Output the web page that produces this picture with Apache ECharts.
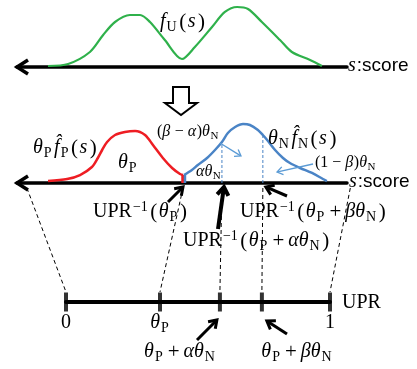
<!DOCTYPE html>
<html><head><meta charset="utf-8">
<script src="https://cdn.jsdelivr.net/npm/echarts@6/dist/echarts.min.js"></script>
<style>html,body{margin:0;padding:0;background:#fff}#c{width:417px;height:369px}</style>
</head><body><div id="c"></div>
<script>
// ---- data (s: score, normalised 0..1, increasing to the left) ----
const sU = [0.906,0.845,0.779,0.739,0.703,0.658,0.627,0.597,0.552,0.500,0.461,0.409,0.370,0.333,0.300,0.258,0.203,0.167,0.112,0.076];
const fU = [0.017,0.050,0.250,0.533,0.750,0.867,0.867,0.750,0.450,0.133,0.333,0.667,0.917,1.000,0.967,0.750,0.450,0.250,0.117,0.017];
const sP = [0.906,0.848,0.809,0.773,0.755,0.742,0.727,0.703,0.673,0.642,0.612,0.588,0.558,0.530,0.506,0.497];
const fP = [0.033,0.067,0.133,0.267,0.417,0.550,0.683,0.800,0.850,0.867,0.800,0.633,0.417,0.250,0.150,0.133];
const sN = [0.494,0.470,0.452,0.424,0.400,0.379,0.361,0.339,0.315,0.294,0.270,0.255,0.242,0.218,0.194,0.173,0.142,0.106,0.073,0.061];
const fN = [0.133,0.217,0.300,0.417,0.550,0.683,0.833,0.933,0.983,0.967,0.883,0.800,0.717,0.550,0.417,0.333,0.250,0.167,0.067,0.033];
const cutP = 0.497;          // UPR^-1(theta_P)
const cutNstart = 0.491;
const cutAlpha = 0.379, fAlpha = 0.683;  // UPR^-1(theta_P + alpha theta_N)
const cutBeta = 0.255,  fBeta = 0.800;   // UPR^-1(theta_P + beta theta_N)
const sEnds = [0.97, cutP, cutAlpha, cutBeta, -0.01];   // score points mapped to UPR
const uprTicks = [0, 0.356, 0.583, 0.742, 1];           // UPR positions
const uprTickLabels = ['{r|0}', '{i|θ}{b|P}', '', '', '{r|1}'];

const F = '"Liberation Serif", "DejaVu Serif", serif';
const SANS = '"Liberation Sans", Arial, sans-serif';
const RICH = {
  r: {fontFamily:F, fontSize:20, lineHeight:24, verticalAlign:'middle', color:'#000'},
  g: {fontFamily:F, fontSize:6, lineHeight:6, verticalAlign:'middle', color:'#000'},
  pr:{fontFamily:F, fontSize:21, lineHeight:24, padding:[0,1.5,0,1.5], verticalAlign:'middle', color:'#000'},
  op:{fontFamily:F, fontSize:21, lineHeight:24, padding:[0,4,0,4], verticalAlign:'middle', color:'#000'},
  i: {fontFamily:F, fontSize:20, fontStyle:'italic', lineHeight:24, padding:[0,1,0,0], verticalAlign:'middle', color:'#000'},
  b: {fontFamily:F, fontSize:14, lineHeight:14, padding:[10,1,0,0], verticalAlign:'middle', color:'#000'},
  p: {fontFamily:F, fontSize:14, lineHeight:14, padding:[0,1,10,1], verticalAlign:'middle', color:'#000'},
  sr:{fontFamily:F, fontSize:16, lineHeight:20, verticalAlign:'middle', color:'#000'},
  si:{fontFamily:F, fontSize:16, fontStyle:'italic', lineHeight:20, padding:[0,0.5,0,0], verticalAlign:'middle', color:'#000'},
  ss:{fontFamily:F, fontSize:11, lineHeight:11, padding:[8,0,0,0], verticalAlign:'middle', color:'#000'},
  sans:{fontFamily:SANS, fontSize:19, lineHeight:24, verticalAlign:'middle', color:'#000'}
};
const GREEN = '#2fb14b', RED = '#ee1d23', BLUE = '#4a84c6', LBLUE = '#5b9bd5';

const zip = (a,b) => a.map((v,i)=>[v,b[i]]);
const chart = echarts.init(document.getElementById('c'), null, {renderer:'canvas'});
const sAxis = g => ({gridIndex:g, type:'value', min:0, max:1, inverse:true,
  axisLine:{show:true, onZero:false, lineStyle:{color:'#000', width:3.5}}, axisTick:{show:false}, axisLabel:{show:false}, splitLine:{show:false}});
const hidY = g => ({gridIndex:g, type:'value', min:0, max:1, show:false, splitLine:{show:false}});
const option = {
  animation:false,
  backgroundColor:'#fff',
  grid:[
    {left:17, width:330, top:7, height:60},
    {left:17, width:330, top:123, height:60},
    {left:66, width:264, top:262, height:40}
  ],
  xAxis:[sAxis(0), sAxis(1),
    {gridIndex:2, type:'value', min:0, max:1, axisLine:{show:true, onZero:false, lineStyle:{color:'#000', width:4}}, axisTick:{show:false}, axisLabel:{show:false}, splitLine:{show:false}}],
  yAxis:[hidY(0), hidY(1), hidY(2)],
  series:[
    {type:'line', xAxisIndex:0, yAxisIndex:0, data:zip(sU,fU), smooth:0.3, symbol:'none', clip:false, lineStyle:{color:GREEN, width:2.2}},
    {type:'line', xAxisIndex:1, yAxisIndex:1, data:zip(sP,fP), smooth:0.3, symbol:'none', clip:false, lineStyle:{color:RED, width:2.5}},
    {type:'line', xAxisIndex:1, yAxisIndex:1, data:[[cutP, fP[fP.length-1]],[cutP,0]], symbol:'none', clip:false, lineStyle:{color:RED, width:3.5}},
    {type:'line', xAxisIndex:1, yAxisIndex:1, data:[[cutNstart,0],[cutNstart,fN[0]]], symbol:'none', clip:false, lineStyle:{color:BLUE, width:2.5}},
    {type:'line', xAxisIndex:1, yAxisIndex:1, data:zip(sN,fN), smooth:0.3, symbol:'none', clip:false, lineStyle:{color:BLUE, width:2.5}},
    {type:'line', xAxisIndex:1, yAxisIndex:1, data:[[cutAlpha,0],[cutAlpha,fAlpha]], symbol:'none', clip:false, lineStyle:{color:BLUE, width:1, type:[3,2]}},
    {type:'line', xAxisIndex:1, yAxisIndex:1, data:[[cutBeta,0],[cutBeta,fBeta]], symbol:'none', clip:false, lineStyle:{color:BLUE, width:1, type:[3,2]}},
    {type:'scatter', xAxisIndex:2, yAxisIndex:2, data:uprTicks.map(u=>[u,0]), symbol:'rect', symbolSize:[4,19], clip:false,
      itemStyle:{color:'#000'}, z:5}
  ]
};
chart.setOption(option);

const P = (g,x,y) => chart.convertToPixel({gridIndex:g},[x,y]);
function arrow(x1,y1,x2,y2,color,w,h){
  const a = Math.atan2(y2-y1,x2-x1), d = 0.6;
  const p1=[x2-h*Math.cos(a-d), y2-h*Math.sin(a-d)], p2=[x2-h*Math.cos(a+d), y2-h*Math.sin(a+d)];
  const ex = x2 - Math.cos(a)*w*0.6, ey = y2 - Math.sin(a)*w*0.6;
  return [
    {type:'line', shape:{x1:x1,y1:y1,x2:ex,y2:ey}, style:{stroke:color, lineWidth:w}, z:20},
    {type:'polyline', shape:{points:[p1,[x2,y2],p2]}, style:{stroke:color, lineWidth:w, fill:null}, z:20}
  ];
}
function txt(x,y,text,align){
  return {type:'text', z:15, style:{x:x, y:y, text:text, rich:RICH, fill:'#000', align:align||'left', verticalAlign:'middle', fontFamily:F, fontSize:20}};
}
const g = [];
// open chevrons at the left end of the score axes
[0,1].forEach(gi=>{
  const t = P(gi,1,0);
  g.push({type:'polyline', shape:{points:[[t[0]+11,t[1]-7],[t[0],t[1]],[t[0]+11,t[1]+7]]}, style:{stroke:'#000', lineWidth:3.5, fill:null}, z:10});
});
// dashed connectors score axis -> UPR axis
sEnds.forEach((s,i)=>{
  const a = P(1,s,0), b = P(2,uprTicks[i],0);
  g.push({type:'line', shape:{x1:a[0], y1:a[1]+5, x2:b[0], y2:b[1]-10}, style:{stroke:'#000', lineWidth:1, lineDash:[4,3]}, z:3});
});
// UPR tick labels
uprTicks.forEach((u,i)=>{
  if (!uprTickLabels[i]) return;
  const b = P(2,u,0);
  g.push(txt(b[0], b[1]+21, uprTickLabels[i], 'center'));
});
// hollow arrow
g.push({type:'polygon', shape:{points:[[173,87],[189,87],[189,103],[197,103],[181,115],[165,103],[173,103]]}, style:{stroke:'#000', lineWidth:2, fill:'#fff'}, z:10});
// arrows
const cP = P(1,cutP,0), cA = P(1,cutAlpha,0), cB = P(1,cutBeta,0);
const uA = P(2,uprTicks[2],0), uB = P(2,uprTicks[3],0);
g.push(...arrow(168,202, cP[0], cP[1]+4, '#000', 3, 9));
g.push(...arrow(218,229, cA[0]+2, cA[1]+4, '#000', 4, 10));
g.push(...arrow(287,196, cB[0]+3, cB[1]+4, '#000', 3, 9));
g.push(...arrow(197,340, uA[0]-3, uA[1]+18, '#000', 3, 9));
g.push(...arrow(287,334, uB[0]+5, uB[1]+19, '#000', 3, 9));
g.push(...arrow(220,143, 241,156, LBLUE, 1.3, 7));
g.push(...arrow(313,164, 277,172, LBLUE, 1.3, 7));
// texts
g.push(txt(160,22,'{i|f}{b|U}{pr|(}{i|s}{pr|)}'));
g.push(txt(348,66,'{i|s}{sans|:score}'));
g.push(txt(349,182,'{i|s}{sans|:score}'));
g.push(txt(33,148,'{i|θ}{b|P}{g| }{i|f\u0302}{b|P}{pr|(}{i|s}{pr|)}'));
g.push(txt(118,163,'{i|θ}{b|P}'));
g.push(txt(157,132,'{sr|(}{si|β}{sr| − }{si|α}{sr|)}{si|θ}{ss|N}'));
g.push(txt(196,172,'{si|αθ}{ss|N}'));
g.push(txt(268,139,'{i|θ}{b|N}{g| }{i|f\u0302}{b|N}{pr|(}{i|s}{pr|)}'));
g.push(txt(315,163,'{sr|(1 − }{si|β}{sr|)}{si|θ}{ss|N}'));
g.push(txt(93,212,'{r|UPR}{p|−1}{pr|(}{i|θ}{b|P}{pr|)}'));
g.push(txt(240,212,'{r|UPR}{p|−1}{pr|(}{i|θ}{b|P}{op|+}{i|βθ}{b|N}{pr|)}'));
g.push(txt(183,241,'{r|UPR}{p|−1}{pr|(}{i|θ}{b|P}{op|+}{i|αθ}{b|N}{pr|)}'));
g.push(txt(342,303,'{r|UPR}'));
g.push(txt(180,352,'{i|θ}{b|P}{op|+}{i|αθ}{b|N}','center'));
g.push(txt(297,352,'{i|θ}{b|P}{op|+}{i|βθ}{b|N}','center'));
chart.setOption({graphic:{elements:g}});
</script></body></html>
